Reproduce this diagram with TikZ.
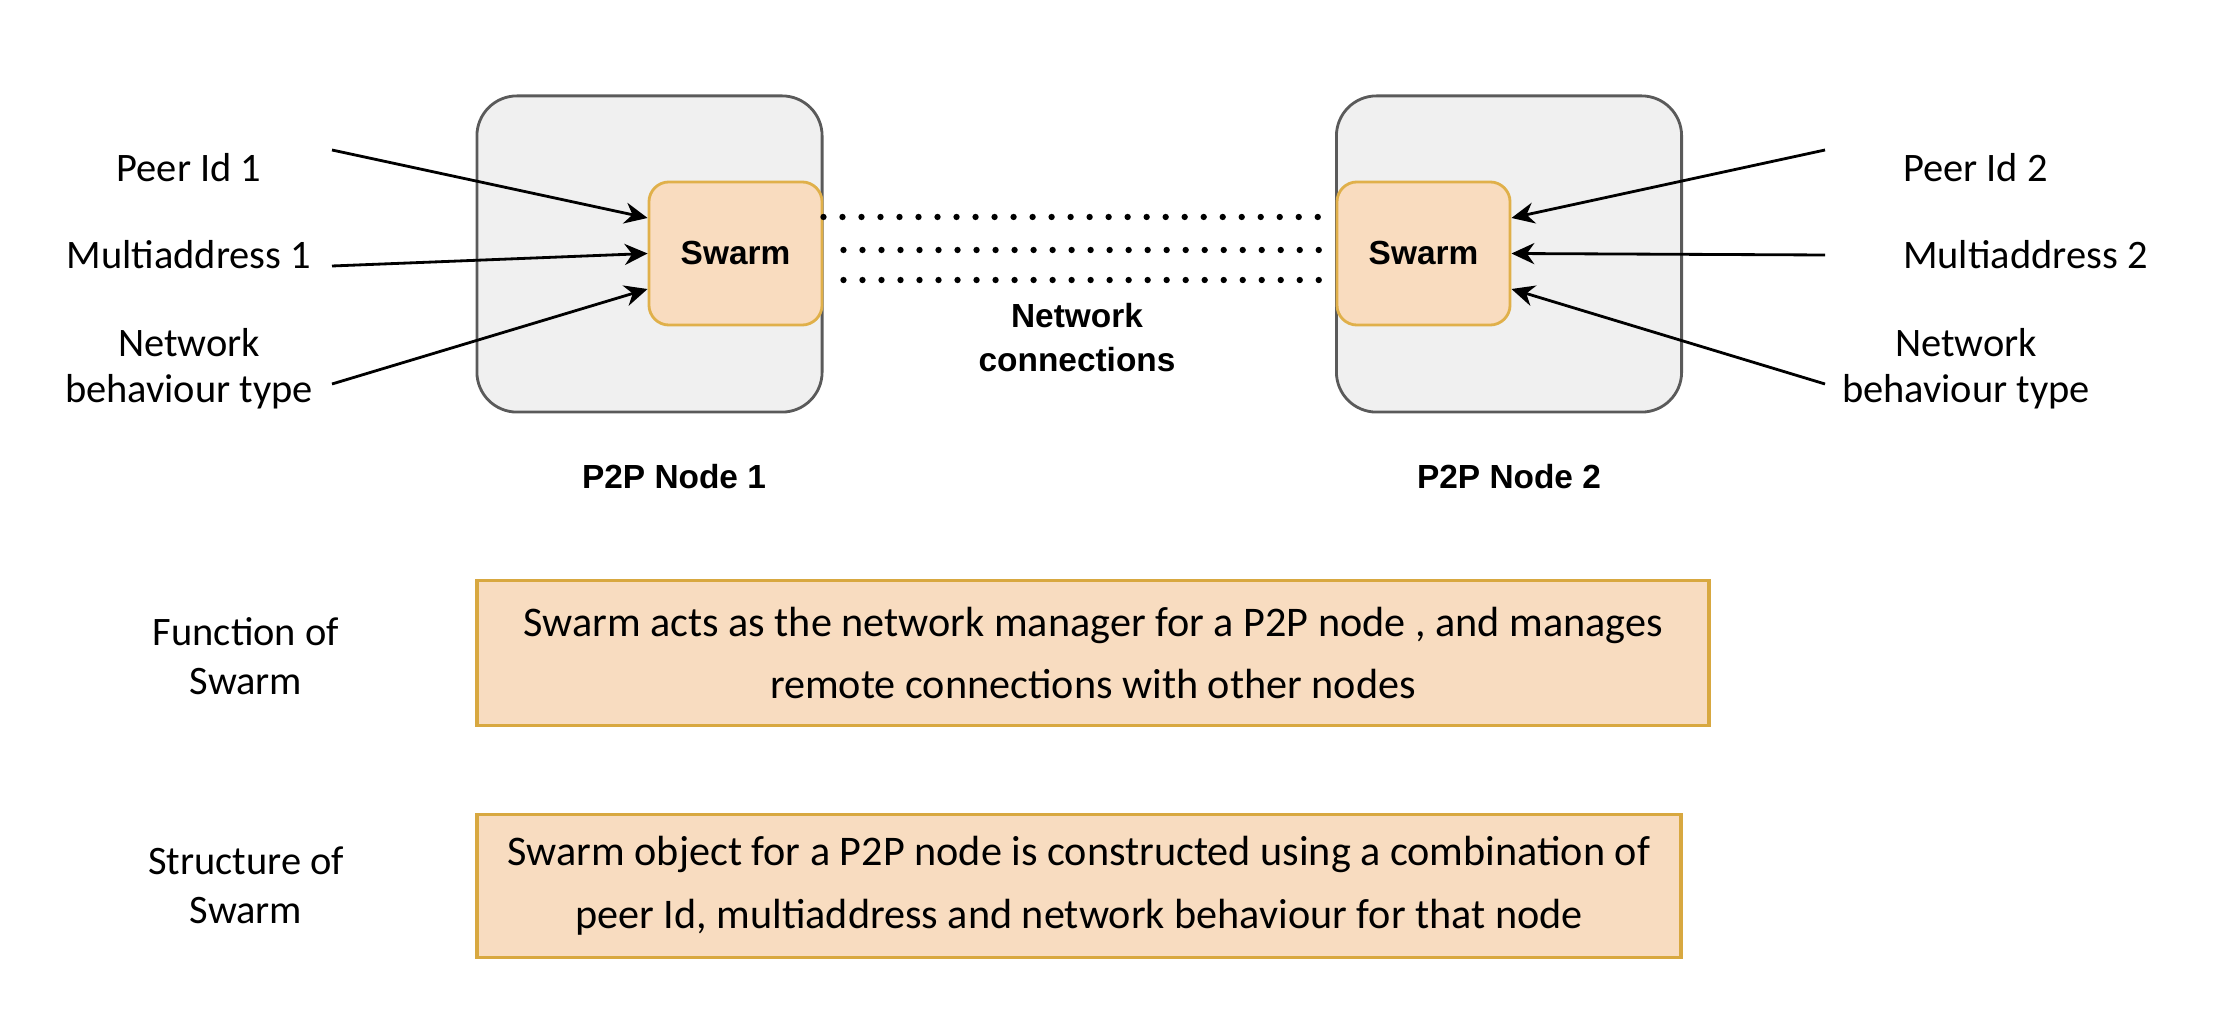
\documentclass[tikz,border=0pt]{standalone}
\usepackage{fontspec}
\setmainfont{Liberation Sans}
\newfontfamily\handfont{Carlito}
\usetikzlibrary{arrows.meta,positioning}

\definecolor{peerfill}{HTML}{F0F0F0}
\definecolor{peerdraw}{HTML}{5A5A5A}
\definecolor{swarmfill}{HTML}{F9DCBF}
\definecolor{swarmdraw}{HTML}{E0B04A}
\definecolor{notefill}{HTML}{F8DCC0}
\definecolor{notedraw}{HTML}{D8A840}

\begin{document}
\begin{tikzpicture}[->,>={Stealth[length=6.5pt,width=6pt]},thick,x=0.01cm,y=-0.01cm,
		peer/.style={rectangle,rounded corners=0.4cm,draw=peerdraw,fill=peerfill,line width=0.8pt,
			minimum width=3.45cm,minimum height=3.16cm},
		swarm/.style={rectangle,rounded corners=0.2cm,draw=swarmdraw,fill=swarmfill,line width=0.8pt,
			minimum width=1.73cm,minimum height=1.43cm,font=\fontsize{9.5}{11}\selectfont\bfseries},
		note/.style={rectangle,draw=notedraw,fill=notefill,line width=1.1pt,align=center,
			font=\handfont\fontsize{12}{17.9}\selectfont},
		hand/.style={align=center,font=\handfont\fontsize{11.5}{13}\selectfont},
		bold/.style={align=center,font=\fontsize{9.5}{12.5}\selectfont\bfseries},
		dots/.style={-,line width=1.8pt,line cap=round,dash pattern=on 0pt off 0.19cm}]
	\useasboundingbox (0,0) rectangle (2222,1034);

	\node[peer] (P1) at (649.5,254) {};
	\node[swarm] (S1) at (735.5,253.5) {Swarm};
	\node[peer] (P2) at (1509,254) {};
	\node[swarm] (S2) at (1423.5,253.5) {Swarm};

	\node[bold] (N1) [below=0.38cm of P1,xshift=0.245cm] {P2P Node 1};
	\node[bold] (N2) [below=0.38cm of P2] {P2P Node 2};
	\node[bold] (Net) at (1077,338) {Network\\connections};

	% inputs of node 1
	\node[hand] (Id1) at (189,168) {Peer Id 1};
	\node[hand] (Ma1) at (189,255) {Multiaddress 1};
	\node[hand] (Nb1) at (189,369) {Network\\behaviour type};
	\coordinate (Id1t) at (332,150);
	\coordinate (Ma1t) at (332,266);
	\coordinate (Nb1t) at (332,384);

	% inputs of node 2
	\node[hand,anchor=west] (Id2) at (1890,168) {Peer Id 2};
	\node[hand,anchor=west] (Ma2) at (1890,255) {Multiaddress 2};
	\node[hand] (Nb2) at (1966,369) {Network\\behaviour type};
	\coordinate (Id2t) at (1825,150);
	\coordinate (Ma2t) at (1825,255);
	\coordinate (Nb2t) at (1825,384);

	\path (Id1t) edge ([yshift=0.355cm]S1.west)
		(Ma1t) edge (S1.west)
		(Nb1t) edge ([yshift=-0.355cm]S1.west);
	\path (Id2t) edge ([yshift=0.355cm]S2.east)
		(Ma2t) edge (S2.east)
		(Nb2t) edge ([yshift=-0.355cm]S2.east);

	\draw[dots] ([yshift=0.365cm]S1.east) -- ([yshift=0.365cm]S2.west);
	\draw[dots] ([xshift=0.2cm,yshift=0.035cm]S1.east) -- ([yshift=0.035cm]S2.west);
	\draw[dots] ([xshift=0.2cm,yshift=-0.265cm]S1.east) -- ([yshift=-0.265cm]S2.west);

	% what a swarm is
	\node[note,minimum width=12.32cm,minimum height=1.45cm] (Fn) at (1093,653)
		{Swarm acts as the network manager for a P2P node , and manages\\remote connections with other nodes};
	\node[note,minimum width=12.04cm,minimum height=1.43cm] (St) at (1079,886)
		{Swarm object for a P2P node is constructed using a combination of\\peer Id, multiaddress and network behaviour for that node};
	\node[hand,font=\handfont\fontsize{11.5}{14}\selectfont] (FnL) at (246,656) {Function of\\Swarm};
	\node[hand,font=\handfont\fontsize{11.5}{14}\selectfont] (StL) at (246,885) {Structure of\\Swarm};
\end{tikzpicture}
\end{document}
